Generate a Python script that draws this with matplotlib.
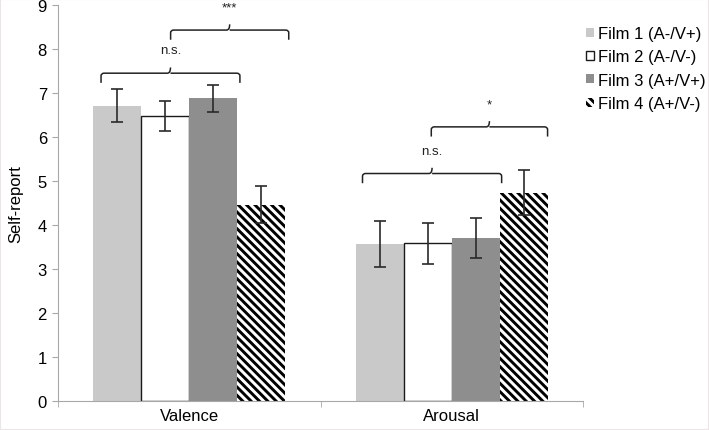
import numpy as np
import matplotlib
matplotlib.use("Agg")
import matplotlib.pyplot as plt
from matplotlib.path import Path
from matplotlib.patches import PathPatch, Rectangle

plt.rcParams['font.family'] = ['Liberation Sans', 'DejaVu Sans']
plt.rcParams['font.size'] = 12
plt.rcParams['hatch.linewidth'] = 2.1

categories = ["Valence", "Arousal"]
films = ["Film 1 (A-/V+)", "Film 2 (A-/V-)", "Film 3 (A+/V+)", "Film 4 (A+/V-)"]
valence = [6.71, 6.47, 6.88, 4.46]
valence_err = [0.38, 0.34, 0.31, 0.42]
arousal = [3.57, 3.58, 3.71, 4.73]
arousal_err = [0.53, 0.47, 0.46, 0.51]

# significance brackets: (x left, x right, level, label)
brackets = [(-0.336, 0.193, 7.45, "n.s."),
            (-0.071, 0.379, 8.43, "***"),
            (0.660, 1.190, 5.17, "n.s."),
            (0.922, 1.365, 6.23, "*")]

means = np.array([valence, arousal]).T
errs = np.array([valence_err, arousal_err]).T

fig = plt.figure(figsize=(7.09, 4.31), dpi=100)
ax = fig.add_axes([0.0818, 0.0673, 0.7405, 0.9188])

w = 0.183
x = np.arange(len(categories))
styles = [dict(color="#c9c9c9", linewidth=0),
          dict(facecolor="white", edgecolor="#1a1a1a", linewidth=1.0),
          dict(color="#8e8e8e", linewidth=0),
          dict(facecolor="white", edgecolor="black", hatch="\\\\\\\\", linewidth=0)]

for i in range(4):
    pos = x + (i - 1.5) * w
    ax.bar(pos, means[i], w, label=films[i], **styles[i])
    ax.errorbar(pos, means[i], yerr=errs[i], fmt="none", ecolor="#2a2a2a",
                elinewidth=1.2, capsize=4.5, capthick=1.2)


def draw_bracket(x0, x1, y, label):
    drop = 0.22
    rise = 0.13
    cx = 0.012
    cy = 0.06
    xm = (x0 + x1) / 2
    verts = [(x0, y - drop), (x0, y - cy), (x0, y), (x0 + cx, y),
             (xm - cx, y), (xm, y), (xm, y + rise),
             (xm, y), (xm + cx, y), (x1 - cx, y), (x1, y), (x1, y - cy),
             (x1, y - drop)]
    codes = [Path.MOVETO, Path.LINETO, Path.CURVE3, Path.CURVE3,
             Path.LINETO, Path.CURVE3, Path.CURVE3,
             Path.MOVETO, Path.CURVE3, Path.LINETO, Path.CURVE3, Path.CURVE3,
             Path.LINETO]
    ax.add_patch(PathPatch(Path(verts, codes), facecolor="none",
                           edgecolor="#222222", linewidth=1.1))
    off = 0.52
    ax.text(xm, y + off, label, ha="center", va="center", fontsize=9.5,
            color="#222222")


for b in brackets:
    draw_bracket(*b)

ax.set_xlim(-0.5, 1.5)
ax.set_ylim(0, 9)
ax.set_yticks(range(10))
ax.set_xticks(x)
ax.set_xticklabels(categories, fontsize=12)
ax.set_xticks([-0.5, 0.5, 1.5], minor=True)
ax.tick_params(axis="x", which="major", length=0, pad=5)
ax.tick_params(axis="x", which="minor", length=4, color="#a8a8a8")
ax.tick_params(axis="y", length=4, color="#a8a8a8", labelsize=12, pad=4)
for s in ["top", "right"]:
    ax.spines[s].set_visible(False)
for s in ["left", "bottom"]:
    ax.spines[s].set_color("#a8a8a8")
ax.set_ylabel("Self-report", fontsize=12, labelpad=10)

fig.legend(loc="upper left", bbox_to_anchor=(586 / 709, 1 - 27 / 431),
           frameon=False, fontsize=12, handlelength=0.45, handleheight=0.45,
           handletextpad=0.25, labelspacing=0.5, borderpad=0,
           borderaxespad=0)

fig.patches.append(Rectangle((0, 0), 1, 1, transform=fig.transFigure,
                             fill=False, edgecolor="#ece4e6", linewidth=1.5))

fig.savefig("out.png", dpi=100)
